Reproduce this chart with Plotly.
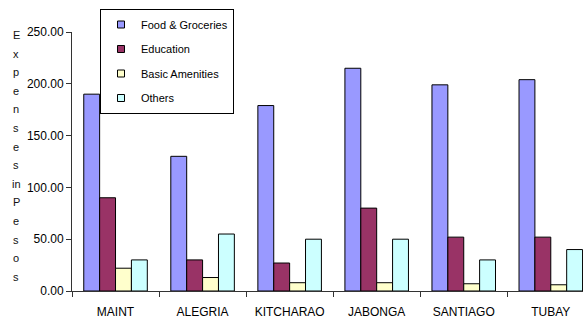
import plotly.graph_objects as go

categories = ["MAINT", "ALEGRIA", "KITCHARAO", "JABONGA", "SANTIAGO", "TUBAY"]
food = [190, 130, 179, 215, 199, 204]
education = [90, 30, 27, 80, 52, 52]
amenities = [22, 13, 8, 8, 7, 6]
others = [30, 55, 50, 50, 30, 40]
series_names = ["Food & Groceries", "Education", "Basic Amenities", "Others"]
y_ticks = [0, 50, 100, 150, 200, 250]
y_title_lines = ["E", "x", "p", "e", "n", "s", "e", "s", "in", "P", "e", "s", "o", "s"]

colors = ["#9999FF", "#993366", "#FFFFCC", "#CCFFFF"]
W, H = 583, 322
L, R, T, B = 72, 0, 32, 31
FONT = "Liberation Sans, Arial, sans-serif"

fig = go.Figure()
for name, vals, c in zip(series_names, [food, education, amenities, others], colors):
    fig.add_trace(go.Bar(x=categories, y=vals, name=name, marker=dict(color=c, line=dict(color="black", width=1)),
                         showlegend=False))
    fig.add_trace(go.Scatter(x=[None], y=[None], mode="markers", name=name, legendgroup=name,
                             marker=dict(symbol="square", size=7, color=c, line=dict(color="black", width=1))))

pw = W - L - R
ph = H - T - B
annotations = []
for i, t in enumerate(y_title_lines):
    ypx = 35 + i * 18.6
    annotations.append(dict(text=t, xref="paper", yref="paper", x=(16 - L) / pw, y=(H - B - ypx) / ph,
                            showarrow=False, xanchor="center", yanchor="middle",
                            font=dict(family=FONT, size=11, color="#111")))

fig.update_layout(
    width=W, height=H,
    margin=dict(l=L, r=R, t=T, b=B, autoexpand=False),
    paper_bgcolor="white", plot_bgcolor="white",
    barmode="group", bargap=0.27, bargroupgap=0,
    font=dict(family=FONT, size=12, color="black"),
    showlegend=True,
    legend=dict(x=(100 - L) / pw, y=(H - B - 9) / ph, xanchor="left", yanchor="top",
                bgcolor="white", bordercolor="black", borderwidth=1,
                font=dict(family=FONT, size=11, color="black"),
                itemsizing="trace", tracegroupgap=5.5),
    annotations=annotations,
    xaxis=dict(range=[-0.5, 5.37], showline=True, linecolor="#333", linewidth=1,
               ticks="outside", ticklen=5, tickcolor="#333", tickson="boundaries",
               ticklabelstandoff=10, showgrid=False, zeroline=False, tickangle=0, automargin=False,
               tickfont=dict(family=FONT, size=12)),
    yaxis=dict(range=[0, 250], tickvals=y_ticks, tickformat=".2f", showline=True, linecolor="#333",
               linewidth=1, ticks="outside", ticklen=5, tickcolor="#333", showgrid=False, zeroline=False,
               automargin=False, tickfont=dict(family=FONT, size=12)),
)

fig.write_html("out.html")
